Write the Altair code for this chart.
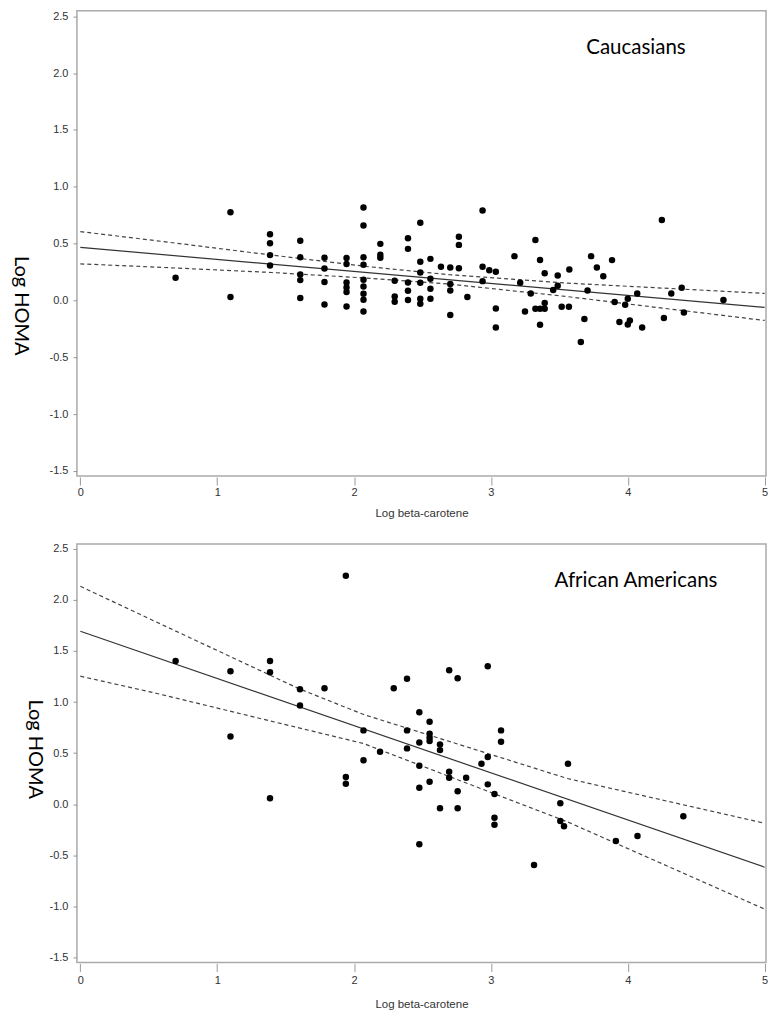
import altair as alt
import pandas as pd

# ---------------- Caucasians (top panel) ----------------
cau_x = [0.696, 1.097, 1.097, 1.386, 1.386, 1.386, 1.386, 1.607, 1.607, 1.607,
         1.607, 1.607, 1.784, 1.784, 1.784, 1.784, 1.945, 1.945, 1.945, 1.945,
         1.945, 1.945, 2.069, 2.069, 2.069, 2.069, 2.069, 2.069, 2.069, 2.069,
         2.069, 2.192, 2.192, 2.192, 2.297, 2.297, 2.297, 2.394, 2.394, 2.394,
         2.394, 2.394, 2.484, 2.484, 2.484, 2.484, 2.484, 2.484, 2.558, 2.558,
         2.558, 2.558, 2.635, 2.703, 2.703, 2.703, 2.703, 2.766, 2.766, 2.766,
         2.828, 2.939, 2.939, 2.939, 2.988, 3.036, 3.036, 3.036, 3.172, 3.214,
         3.249, 3.291, 3.325, 3.325, 3.359, 3.359, 3.359, 3.393, 3.393, 3.393,
         3.455, 3.488, 3.488, 3.517, 3.570, 3.573, 3.657, 3.683, 3.706, 3.732,
         3.774, 3.821, 3.885, 3.904, 3.939, 3.981, 4.000, 4.000, 4.015, 4.069,
         4.105, 4.249, 4.264, 4.318, 4.394, 4.410, 4.699]
cau_y = [0.199, 0.777, 0.030, 0.583, 0.504, 0.399, 0.308, 0.525, 0.381, 0.228,
         0.179, 0.021, 0.375, 0.281, 0.162, -0.035, 0.373, 0.320, 0.158, 0.114,
         0.074, -0.053, 0.817, 0.659, 0.381, 0.314, 0.182, 0.123, 0.059, 0.006,
         -0.097, 0.498, 0.402, 0.375, 0.173, 0.035, -0.011, 0.548, 0.454, 0.158,
         0.085, 0.004, 0.683, 0.340, 0.246, 0.156, 0.015, -0.029, 0.366, 0.191,
         0.103, 0.015, 0.296, 0.290, 0.144, 0.088, -0.128, 0.560, 0.489, 0.283,
         0.030, 0.791, 0.296, 0.170, 0.265, 0.252, -0.070, -0.237, 0.390, 0.156,
         -0.097, 0.062, 0.532, -0.073, 0.356, -0.073, -0.214, -0.023, -0.073, 0.239,
         0.092, 0.220, 0.129, -0.055, -0.055, 0.272, -0.365, -0.163, 0.087, 0.390,
         0.290, 0.213, 0.355, -0.013, -0.189, -0.038, 0.015, -0.211, -0.177, 0.062,
         -0.238, 0.707, -0.155, 0.062, 0.112, -0.105, 0.004]
cau_fit_x = [0.0, 5.0]
cau_fit_y = [0.467, -0.061]
cau_ci_x = [0.0, 0.56, 1.4, 2.09, 2.7, 3.55, 5.0]
cau_upper = [0.606, 0.525, 0.399, 0.299, 0.226, 0.153, 0.062]
cau_lower = [0.322, 0.293, 0.246, 0.197, 0.144, 0.035, -0.176]

# ---------------- African Americans (bottom panel) ----------------
aa_x = [0.696, 1.097, 1.097, 1.386, 1.386, 1.386, 1.605, 1.605, 1.784, 1.940,
        1.940, 1.940, 2.069, 2.069, 2.190, 2.290, 2.387, 2.387, 2.387, 2.477,
        2.477, 2.477, 2.477, 2.477, 2.552, 2.552, 2.552, 2.552, 2.552, 2.628,
        2.628, 2.628, 2.695, 2.695, 2.695, 2.757, 2.757, 2.757, 2.819, 2.931,
        2.977, 2.977, 2.977, 3.026, 3.026, 3.026, 3.074, 3.074, 3.315, 3.507,
        3.507, 3.534, 3.563, 3.913, 4.071, 4.406]
aa_y = [1.402, 1.302, 0.664, 1.402, 1.292, 0.059, 1.126, 0.967, 1.136, 2.236,
        0.267, 0.201, 0.723, 0.430, 0.514, 1.136, 1.227, 0.723, 0.547, 0.901,
        0.605, 0.377, 0.162, -0.391, 0.807, 0.689, 0.650, 0.618, 0.221, 0.586,
        0.530, -0.039, 1.311, 0.318, 0.260, 1.233, 0.127, -0.039, 0.260, 0.397,
        1.351, 0.462, 0.195, 0.101, -0.131, -0.199, 0.723, 0.611, -0.593, 0.010,
        -0.163, -0.215, 0.397, -0.358, -0.310, -0.117]
aa_fit_x = [0.0, 5.0]
aa_fit_y = [1.692, -0.615]
aa_up_x = [0.0, 0.56, 1.6, 2.07, 3.56, 5.0]
aa_upper = [2.132, 1.780, 1.129, 0.878, 0.252, -0.185]
aa_lo_x = [0.0, 0.56, 2.07, 3.56, 5.0]
aa_lower = [1.253, 1.084, 0.594, -0.172, -1.025]

x_ticks = [0, 1, 2, 3, 4, 5]
y_ticks = [-1.5, -1.0, -0.5, 0.0, 0.5, 1.0, 1.5, 2.0, 2.5]

AXIS_FONT = "Liberation Sans"
LABEL_EXPR = "datum.value < 0 ? '-' + format(-datum.value, '.1f') : format(datum.value, '.1f')"


def panel(px, py, fx, fy, ux, uy, lx, ly, label, lab_x, lab_y, height, ydom,
          y_title_pad, y_title_y, x_label_pad, x_title_pad):
    xs = alt.Scale(domain=[-0.025, 5.01], nice=False, zero=False)
    ys = alt.Scale(domain=ydom, nice=False, zero=False)
    xax = alt.Axis(values=x_ticks, format="d", title="Log beta-carotene", grid=False,
                   domain=False, tickSize=8, offset=1, labelPadding=x_label_pad,
                   titlePadding=x_title_pad, labelFont=AXIS_FONT, titleFont=AXIS_FONT,
                   labelFontSize=11, titleFontSize=11.5, labelColor="#333",
                   titleColor="#333", titleFontWeight="normal", tickColor="#999")
    yax = alt.Axis(values=y_ticks, labelExpr=LABEL_EXPR, title="Log HOMA", grid=False,
                   domain=False, tickSize=4, labelPadding=5, titlePadding=y_title_pad,
                   titleY=y_title_y,
                   labelFont=AXIS_FONT, labelFontSize=11, labelColor="#333",
                   titleFont="Lato", titleFontSize=20, titleColor="black",
                   titleFontWeight="normal", titleAngle=90, tickColor="#999")
    X = alt.X("x:Q", scale=xs, axis=xax)
    Y = alt.Y("y:Q", scale=ys, axis=yax)

    pts = alt.Chart(pd.DataFrame({"x": px, "y": py})).mark_circle(
        size=42, color="black", opacity=1).encode(x=X, y=Y)
    fit = alt.Chart(pd.DataFrame({"x": fx, "y": fy})).mark_line(
        color="#333", strokeWidth=1.2).encode(x=X, y=Y)
    ci_df = pd.concat([
        pd.DataFrame({"x": ux, "y": uy, "band": "upper"}),
        pd.DataFrame({"x": lx, "y": ly, "band": "lower"}),
    ])
    ci = alt.Chart(ci_df).mark_line(color="#444", strokeWidth=1.2,
                                    strokeDash=[4, 3]).encode(x=X, y=Y, detail="band:N")
    txt = alt.Chart(pd.DataFrame({"x": [lab_x], "y": [lab_y], "t": [label]})).mark_text(
        font="Lato", fontSize=20.5, color="black", align="center").encode(x=X, y=Y, text="t:N")
    return alt.layer(ci, fit, pts, txt).properties(width=690, height=height)


top = panel(cau_x, cau_y, cau_fit_x, cau_fit_y, cau_ci_x, cau_upper, cau_ci_x, cau_lower,
            "Caucasians", 4.06, 2.22, 466, [-1.545, 2.55], 39, 295, 1, 11)
bottom = panel(aa_x, aa_y, aa_fit_x, aa_fit_y, aa_up_x, aa_upper, aa_lo_x, aa_lower,
               "African Americans", 4.06, 2.18, 419, [-1.546, 2.546], 25, 205, 3, 13)

chart = alt.vconcat(top, bottom, spacing=20).properties(
    padding={"left": 1, "top": 0, "right": 2, "bottom": 2}
).configure_view(stroke="#aaaaaa", strokeWidth=1.5)

chart.save("out.html", embed_options={"renderer": "svg", "actions": False})
